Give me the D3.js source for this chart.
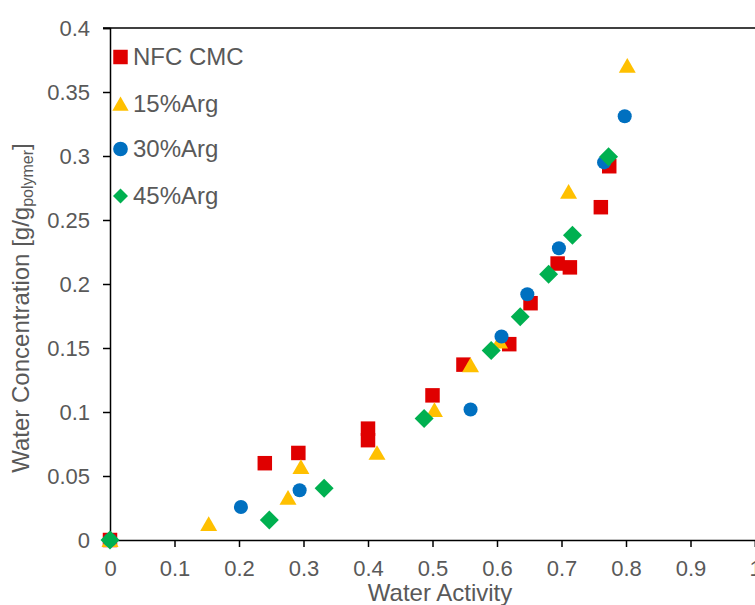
<!DOCTYPE html>
<html><head><meta charset="utf-8">
<script src="https://cdn.jsdelivr.net/npm/d3@7/dist/d3.min.js"></script>
<style>body{margin:0;background:#fff;} svg{display:block;font-family:"Liberation Sans",Arial,sans-serif;}</style>
</head><body><svg id="c" width="755" height="605"></svg>
<script>
const seriesNames = ["NFC CMC", "15%Arg", "30%Arg", "45%Arg"];
const seriesColors = ["#E00000", "#FFC000", "#0070C0", "#00B050"];
const nfcX = [0, 0.240, 0.292, 0.400, 0.400, 0.500, 0.548, 0.619, 0.652, 0.694, 0.713, 0.761, 0.774];
const nfcY = [0, 0.060, 0.068, 0.087, 0.078, 0.113, 0.137, 0.153, 0.185, 0.216, 0.213, 0.260, 0.292];
const arg15X = [0, 0.153, 0.276, 0.296, 0.414, 0.503, 0.559, 0.604, 0.711, 0.802];
const arg15Y = [0, 0.0125, 0.033, 0.057, 0.068, 0.1015, 0.1365, 0.155, 0.272, 0.3705];
const arg30X = [0, 0.203, 0.294, 0.559, 0.607, 0.647, 0.696, 0.766, 0.798];
const arg30Y = [0, 0.0258, 0.0388, 0.102, 0.159, 0.192, 0.228, 0.295, 0.331];
const arg45X = [0, 0.247, 0.332, 0.487, 0.591, 0.636, 0.680, 0.717, 0.773];
const arg45Y = [0, 0.0156, 0.0404, 0.095, 0.148, 0.1745, 0.2076, 0.238, 0.2994];
const xTicks = [0, 0.1, 0.2, 0.3, 0.4, 0.5, 0.6, 0.7, 0.8, 0.9, 1];
const yTicks = [0, 0.05, 0.1, 0.15, 0.2, 0.25, 0.3, 0.35, 0.4];

const svg = d3.select("#c");
const x = d3.scaleLinear().domain([0, 1]).range([110, 755]);
const y = d3.scaleLinear().domain([0, 0.4]).range([540, 28]);
const textColor = "#595959";
const fmt = d => String(+d.toFixed(2));

// axes
const xAxis = svg.append("g").attr("transform", "translate(0,540)")
  .call(d3.axisBottom(x).tickValues(xTicks).tickFormat(fmt).tickSizeOuter(0).tickSize(7).tickPadding(13));
const yAxis = svg.append("g").attr("transform", "translate(110,0)")
  .call(d3.axisLeft(y).tickValues(yTicks).tickFormat(fmt).tickSizeOuter(0).tickSize(7).tickPadding(13));
[xAxis, yAxis].forEach(a => {
  a.attr("font-family", null).attr("font-size", null);
  a.select(".domain").attr("stroke", "#000").attr("stroke-width", 1.5);
  a.selectAll(".tick line").attr("stroke", "#000").attr("stroke-width", 1.5);
  a.selectAll(".tick text").attr("fill", textColor).attr("font-size", 22);
});
// top frame line
svg.append("line").attr("x1", 103).attr("x2", 755).attr("y1", y(0.4)).attr("y2", y(0.4))
  .attr("stroke", "#000").attr("stroke-width", 1.5);

// axis titles
svg.append("text").attr("x", 440).attr("y", 601).attr("text-anchor", "middle")
  .attr("fill", textColor).attr("font-size", 24).text("Water Activity");
const yt = svg.append("text").attr("transform", "translate(29,308) rotate(-90)")
  .attr("text-anchor", "middle").attr("fill", textColor).attr("font-size", 24);
yt.append("tspan").text("Water Concentration [g/g");
yt.append("tspan").attr("font-size", 16).attr("dy", 4).text("polymer");
yt.append("tspan").attr("dy", -4).text("]");

// markers
const shapes = [d3.symbolSquare, d3.symbolTriangle, d3.symbolCircle, d3.symbolSquare];
const sizes = [210, 125, 155, 180];
const legendSizes = [210, 115, 170, 112];
const rotations = [0, 0, 0, 45];
const yOffsets = [0, 2, 0, 0];
const data = [[nfcX, nfcY], [arg15X, arg15Y], [arg30X, arg30Y], [arg45X, arg45Y]];
const plot = svg.append("g");
data.forEach((s, i) => {
  const pts = s[0].map((v, j) => [v, s[1][j]]);
  plot.selectAll(null).data(pts).enter().append("path")
    .attr("d", d3.symbol().type(shapes[i]).size(sizes[i]))
    .attr("transform", d => `translate(${x(d[0])},${y(d[1]) + yOffsets[i]}) rotate(${rotations[i]})`)
    .attr("fill", seriesColors[i]);
});

// legend
const legY = [57, 104, 149, 196];
const leg = svg.append("g");
seriesNames.forEach((n, i) => {
  leg.append("path").attr("d", d3.symbol().type(shapes[i]).size(legendSizes[i]))
    .attr("transform", `translate(120.5,${legY[i] + yOffsets[i]}) rotate(${rotations[i]})`).attr("fill", seriesColors[i]);
  leg.append("text").attr("x", 133).attr("y", legY[i] + 8).attr("fill", textColor)
    .attr("font-size", 24).text(n);
});
</script></body></html>
